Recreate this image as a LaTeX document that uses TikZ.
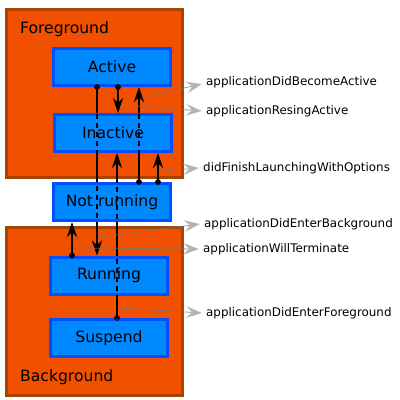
\documentclass[tikz,border=0pt]{standalone}
\usepackage{fontspec}
\setmainfont{DejaVu Sans}
\usetikzlibrary{arrows.meta}
\definecolor{orfill}{RGB}{240,80,0}
\definecolor{orline}{RGB}{168,68,0}
\definecolor{blfill}{RGB}{0,136,255}
\definecolor{blline}{RGB}{0,80,255}
\definecolor{tipgray}{RGB}{178,178,178}
\definecolor{notegray}{RGB}{120,120,120}
\tikzset{
  group/.style={draw=orline,fill=orfill,line width=3pt},
  state/.style={draw=blline,fill=blfill,line width=3pt,minimum width=117pt,minimum height=37pt,inner sep=0pt,font=\fontsize{15.6}{18}\selectfont},
  grouplabel/.style={anchor=west,inner sep=0pt,font=\fontsize{15.6}{18}\selectfont},
  conn/.style={line width=1.1pt,black,-{Stealth[length=15pt,width=10pt,inset=5pt]}},
  dashover/.style={line width=1.1pt,black,dash pattern=on 5pt off 4pt},
  note/.style={line width=0.8pt,draw=notegray,draw opacity=0.75,-{Stealth[length=16pt,width=12pt,inset=6pt,color=tipgray,fill=tipgray]}},
  notelabel/.style={anchor=west,inner sep=4pt,font=\fontsize{11.9}{14}\selectfont},
  dotmark/.style={fill=black,circle,inner sep=0pt,minimum size=5.8pt}
}
\begin{document}
\begin{tikzpicture}[x=1pt,y=-1pt]
\useasboundingbox (0,0) rectangle (400,400);
% groups
\draw[group] (6.5,9.5) rectangle (182.5,177.5);
\draw[group] (6.5,227.5) rectangle (182.5,395);
\node[grouplabel] (fg) at (20,29) {Foreground};
\node[grouplabel] (bg) at (20,377) {Background};
% state nodes (invisible first to get anchors)
\path node[state,draw=none,fill=none] (act) at (112,67) {}
      node[state,draw=none,fill=none] (ina) at (113,133) {}
      node[state,draw=none,fill=none] (nr) at (112,202) {}
      node[state,draw=none,fill=none] (run) at (109,275.5) {}
      node[state,draw=none,fill=none] (sus) at (109,338) {};
% connectors (solid, behind boxes)
\draw[conn] ([xshift=-15pt]act.south) -- ([xshift=-12pt]run.north);
\draw[conn] ([xshift=6pt]act.south) -- ([xshift=5pt]ina.north);
\draw[conn] ([xshift=27pt]nr.north) -- ([xshift=27pt]act.south);
\draw[conn] ([xshift=46pt]nr.north) -- ([xshift=45pt]ina.south);
\draw[conn] ([xshift=8pt]sus.north) -- ([xshift=4pt]ina.south);
\draw[conn] ([xshift=-37pt]run.north) -- ([xshift=-40pt]nr.south);
% boxes
\node[state] (actb) at (act) {Active};
\node[state] (inab) at (ina) {Inactive};
\node[state] (nrb) at (nr) {Not running};
\node[state] (runb) at (run) {Running};
\node[state] (susb) at (sus) {Suspend};
% dashed overlays across boxes
\draw[dashover] ([xshift=-15pt]act.south) -- ([xshift=-12pt,yshift=16pt]run.north);
\draw[dashover] ([xshift=27pt]nr.north) -- ([xshift=27pt,yshift=-16pt]act.south);
\draw[dashover] ([xshift=8pt]sus.north) -- ([xshift=4pt,yshift=-16pt]ina.south);
% dots
\node[dotmark] (d1) at ([xshift=-15pt]act.south) {};
\node[dotmark] (d2) at ([xshift=6pt]act.south) {};
\node[dotmark] (d3) at ([xshift=27pt]nr.north) {};
\node[dotmark] (d4) at ([xshift=46pt]nr.north) {};
\node[dotmark] (d5) at ([xshift=8pt]sus.north) {};
\node[dotmark] (d6) at ([xshift=-37pt]run.north) {};
% notes
\node[notelabel] (l1) at (202,82) {applicationDidBecomeActive};
\node[notelabel] (l2) at (202,111) {applicationResingActive};
\node[notelabel] (l3) at (199,168) {didFinishLaunchingWithOptions};
\node[notelabel] (l4) at (200,224) {applicationDidEnterBackground};
\node[notelabel] (l5) at (199,249) {applicationWillTerminate};
\node[notelabel] (l6) at (202,313) {applicationDidEnterForeground};
\coordinate (s1) at (145.5,96.5);
\coordinate (s2) at (124,105);
\coordinate (s3) at (161.5,171);
\coordinate (s4) at (100,237);
\coordinate (s5) at (75,248);
\coordinate (s6) at (120,308);
\draw[note] (s1) -- ([yshift=-2pt]l1.west);
\draw[note] (s2) -- (l2.west);
\draw[note] (s3) -- (l3.west);
\draw[note] (s4) -- (l4.west);
\draw[note] (s5) -- (l5.west);
\draw[note] (s6) -- (l6.west);
\end{tikzpicture}
\end{document}
